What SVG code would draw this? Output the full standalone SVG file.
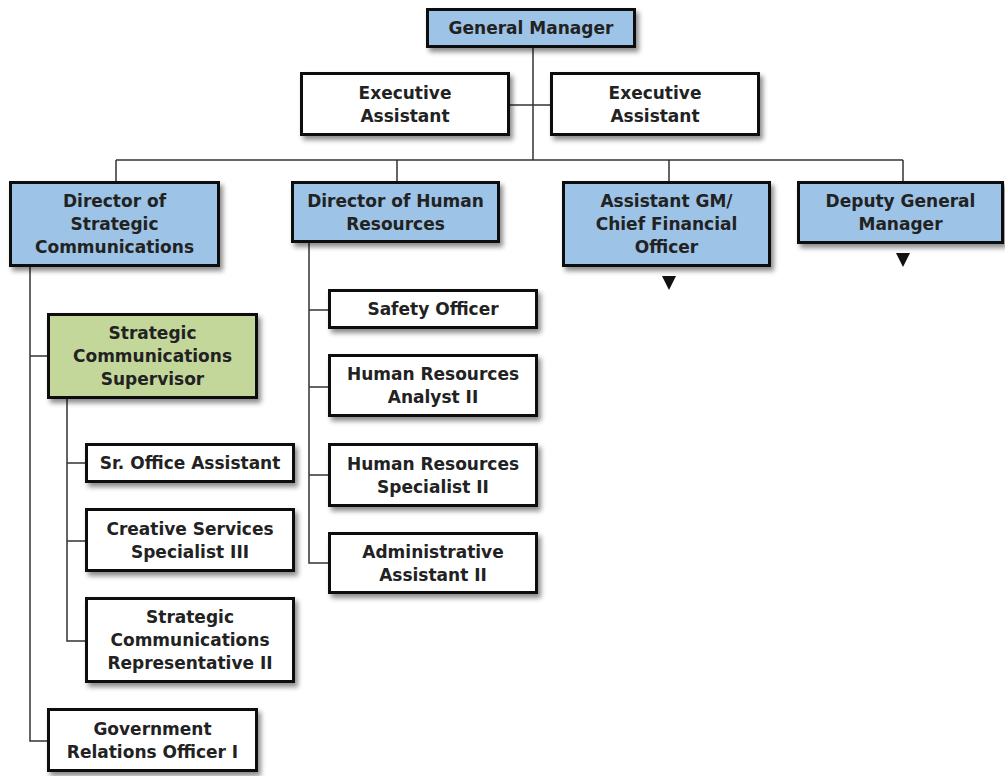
<svg xmlns="http://www.w3.org/2000/svg" width="1005" height="776" viewBox="0 0 1005 776">
  <style>
    .box rect { stroke: #111; stroke-width: 3; filter: url(#shadow); }
    .blue rect { fill: #9dc3e6; }
    .green rect { fill: #c4d79b; }
    .white rect { fill: #ffffff; }
    .box text { font-family: "DejaVu Sans", Verdana, sans-serif; font-weight: bold; font-size: 17px; fill: #222; text-anchor: middle; }
    #connectors path { fill: none; stroke: #333; stroke-width: 1.5; }
    #connectors polygon { fill: #111; }
  </style>
  <defs>
    <filter id="shadow" x="-10%" y="-20%" width="130%" height="160%">
      <feDropShadow dx="3" dy="4" stdDeviation="2.5" flood-color="#000" flood-opacity="0.45"/>
    </filter>
  </defs>
  <rect width="1005" height="776" fill="#ffffff"/>

  <g id="connectors">
    <path d="M533 48 V160"/>
    <path d="M510 105 H550"/>
    <path d="M116 160 H903"/>
    <path d="M116 160 V181 M397 160 V181 M669 160 V181 M903 160 V181"/>
    <path d="M30 267 V741 H47 M30 356 H47"/>
    <path d="M67 399 V641 H85 M67 463 H85 M67 541 H85"/>
    <path d="M309 243 V563 H328 M309 310 H328 M309 387 H328 M309 475 H328"/>
    <polygon points="662,276 676,276 669,290"/>
    <polygon points="896,253 910,253 903,267"/>
  </g>

  <g id="general-manager" class="box blue">
    <rect x="427.5" y="9.5" width="207" height="37"/>
    <text x="531" y="34">General Manager</text>
  </g>
  <g id="executive-assistant-1" class="box white">
    <rect x="301.5" y="73.5" width="207" height="61"/>
    <text x="405" y="98.5">Executive</text>
    <text x="405" y="121.5">Assistant</text>
  </g>
  <g id="executive-assistant-2" class="box white">
    <rect x="551.5" y="73.5" width="207" height="61"/>
    <text x="655" y="98.5">Executive</text>
    <text x="655" y="121.5">Assistant</text>
  </g>
  <g id="director-strategic-communications" class="box blue">
    <rect x="10.5" y="182.5" width="208" height="83"/>
    <text x="114.5" y="207">Director of</text>
    <text x="114.5" y="230">Strategic</text>
    <text x="114.5" y="253">Communications</text>
  </g>
  <g id="director-human-resources" class="box blue">
    <rect x="292.5" y="182.5" width="206" height="59"/>
    <text x="395.5" y="206.5">Director of Human</text>
    <text x="395.5" y="229.5">Resources</text>
  </g>
  <g id="assistant-gm-cfo" class="box blue">
    <rect x="563.5" y="182.5" width="206" height="83"/>
    <text x="666.5" y="207">Assistant GM/</text>
    <text x="666.5" y="230">Chief Financial</text>
    <text x="666.5" y="253">Officer</text>
  </g>
  <g id="deputy-general-manager" class="box blue">
    <rect x="798.5" y="182.5" width="204" height="60"/>
    <text x="900.5" y="207">Deputy General</text>
    <text x="900.5" y="230">Manager</text>
  </g>
  <g id="strategic-communications-supervisor" class="box green">
    <rect x="48.5" y="314.5" width="208" height="83"/>
    <text x="152.5" y="339">Strategic</text>
    <text x="152.5" y="362">Communications</text>
    <text x="152.5" y="385">Supervisor</text>
  </g>
  <g id="sr-office-assistant" class="box white">
    <rect x="86.5" y="444.5" width="207" height="37"/>
    <text x="190" y="469">Sr. Office Assistant</text>
  </g>
  <g id="creative-services-specialist" class="box white">
    <rect x="86.5" y="509.5" width="207" height="61"/>
    <text x="190" y="534.5">Creative Services</text>
    <text x="190" y="557.5">Specialist III</text>
  </g>
  <g id="strategic-communications-representative" class="box white">
    <rect x="86.5" y="598.5" width="207" height="83"/>
    <text x="190" y="623">Strategic</text>
    <text x="190" y="646">Communications</text>
    <text x="190" y="669">Representative II</text>
  </g>
  <g id="government-relations-officer" class="box white">
    <rect x="48.5" y="709.5" width="208" height="61"/>
    <text x="152.5" y="734.5">Government</text>
    <text x="152.5" y="757.5">Relations Officer I</text>
  </g>
  <g id="safety-officer" class="box white">
    <rect x="329.5" y="290.5" width="207" height="37"/>
    <text x="433" y="315">Safety Officer</text>
  </g>
  <g id="human-resources-analyst" class="box white">
    <rect x="329.5" y="355.5" width="207" height="60"/>
    <text x="433" y="380">Human Resources</text>
    <text x="433" y="403">Analyst II</text>
  </g>
  <g id="human-resources-specialist" class="box white">
    <rect x="329.5" y="444.5" width="207" height="61"/>
    <text x="433" y="469.5">Human Resources</text>
    <text x="433" y="492.5">Specialist II</text>
  </g>
  <g id="administrative-assistant" class="box white">
    <rect x="329.5" y="533.5" width="207" height="59"/>
    <text x="433" y="557.5">Administrative</text>
    <text x="433" y="580.5">Assistant II</text>
  </g>
</svg>
